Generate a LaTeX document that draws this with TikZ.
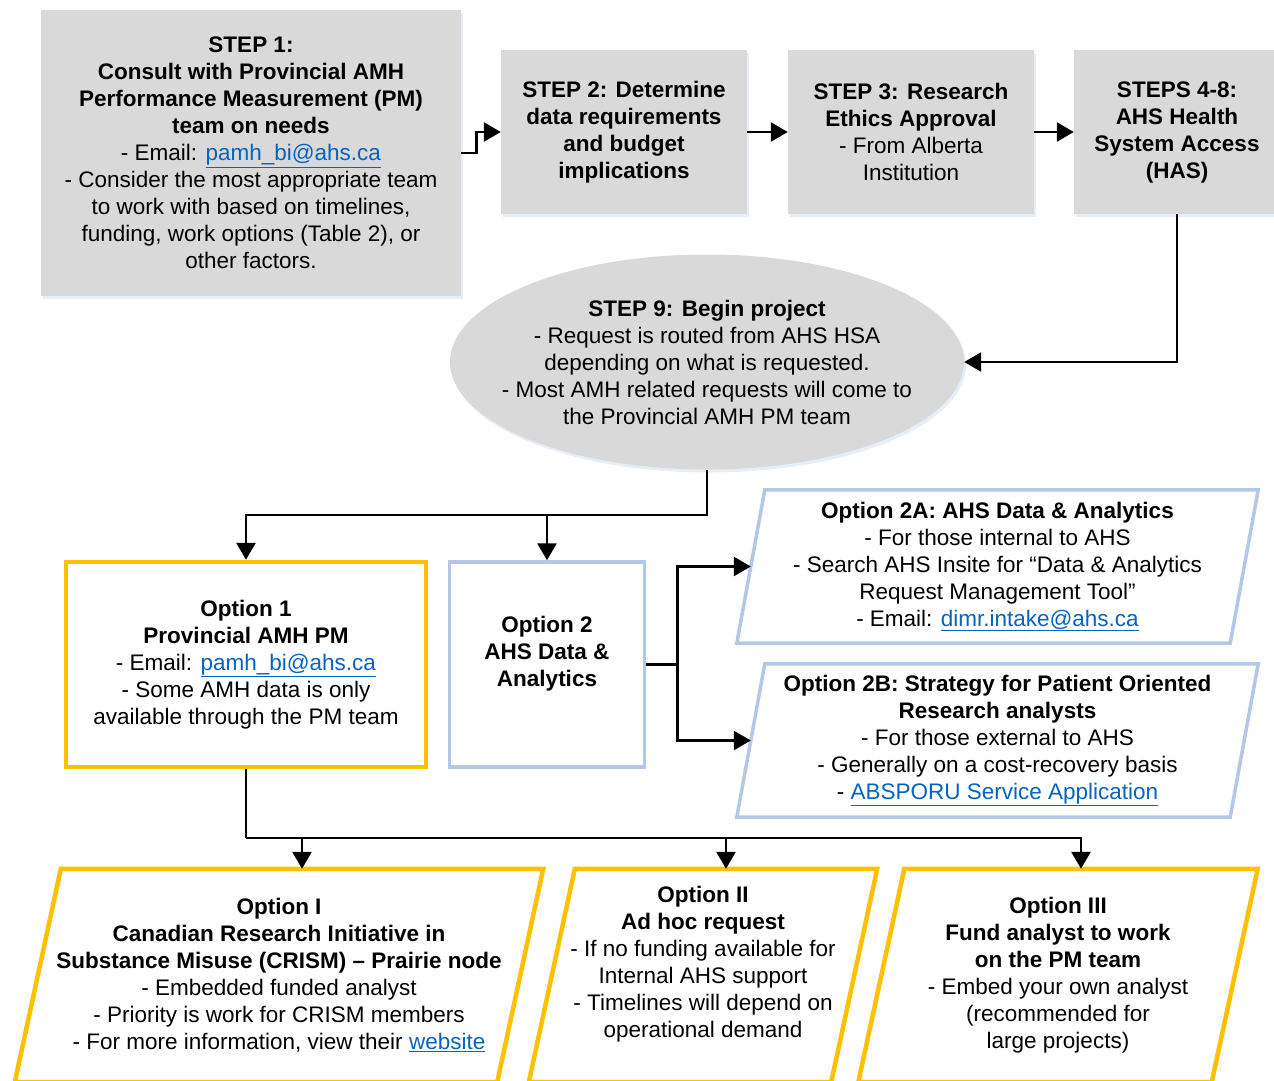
\documentclass[tikz,border=0pt]{standalone}
\usepackage{fontspec}
\setmainfont{Liberation Sans}
\usetikzlibrary{shapes.geometric,arrows.meta,calc,shadows}
\definecolor{boxgray}{HTML}{D9D9D9}
\definecolor{optyellow}{HTML}{FFC000}
\definecolor{optblue}{HTML}{B4C7E7}
\definecolor{glowblue}{HTML}{D6E2F3}
\definecolor{linkblue}{HTML}{0563C1}
\newcommand{\weblink}[1]{\textcolor{linkblue}{\underline{#1}}}
% slanted frame round a named node: node, half slant, style
\newcommand{\slantframe}[3]{%
  \draw[#3] ($(#1.north west)+(#2,0)$) -- ($(#1.north east)+(#2,0)$)
    -- ($(#1.south east)-(#2,0)$) -- ($(#1.south west)-(#2,0)$) -- cycle;}
\tikzset{
  stepbox/.style={fill=boxgray, align=center, inner sep=0pt,
    drop shadow={shadow xshift=2pt, shadow yshift=-3pt, fill=glowblue, opacity=0.6}},
  yellowbox/.style={draw=optyellow, line width=4.5pt, align=center, inner sep=0pt},
  bluebox/.style={draw=optblue, line width=3.5pt, align=center, inner sep=0pt},
  slanttext/.style={align=center, inner sep=0pt},
  flow/.style={line width=2.6pt},
}
\begin{document}
\begin{tikzpicture}[x=1pt, y=-1pt, font=\fontsize{22.5}{27}\selectfont, >={Triangle[length=17pt,width=19pt]}]
\useasboundingbox (0,0) rectangle (1274,1080);
% steps
\node[stepbox, minimum width=420pt, minimum height=286pt] (step1) at (251,153)
  {\textbf{STEP 1:}\\ \textbf{Consult with Provincial AMH}\\ \textbf{Performance Measurement (PM)}\\
   \textbf{team on needs}\\ - Email: \weblink{pamh\_bi@ahs.ca}\\ - Consider the most appropriate team\\
   to work with based on timelines,\\ funding, work options (Table 2), or\\ other factors.};
\node[stepbox, minimum width=246pt, minimum height=164pt] (step2) at (624,132)
  {\textbf{STEP 2: Determine}\\ \textbf{data requirements}\\ \textbf{and budget}\\ \textbf{implications}};
\node[stepbox, minimum width=246pt, minimum height=164pt] (step3) at (911,132)
  {\textbf{STEP 3: Research}\\ \textbf{Ethics Approval}\\ - From Alberta\\ Institution};
\node[stepbox, minimum width=206pt, minimum height=164pt] (step4) at (1177,132)
  {\textbf{STEPS 4-8:}\\ \textbf{AHS Health}\\ \textbf{System Access}\\ \textbf{(HAS)}};
\node[stepbox, ellipse, inner xsep=-25pt, minimum width=514pt, minimum height=215pt] (step9) at (707,362)
  {\textbf{STEP 9: Begin project}\\ - Request is routed from AHS HSA\\ depending on what is requested.\\
   - Most AMH related requests will come to\\ the Provincial AMH PM team};

% options
\node[yellowbox, minimum width=360pt, minimum height=205pt] (opt1) at (246,664.5)
  {\textbf{Option 1}\\ \textbf{Provincial AMH PM}\\ - Email: \weblink{pamh\_bi@ahs.ca}\\
   - Some AMH data is only\\ available through the PM team};
\node[bluebox, minimum width=195pt, minimum height=205pt] (opt2) at (547,664.5)
  {\textbf{Option 2}\\ \textbf{AHS Data \&}\\ \textbf{Analytics}\\ \mbox{}};
\node[slanttext, minimum width=493pt, minimum height=153pt] (opt2a) at (997.5,566.5)
  {\textbf{Option 2A: AHS Data \& Analytics}\\ - For those internal to AHS\\
   - Search AHS Insite for “Data \& Analytics\\ Request Management Tool”\\
   - Email: \weblink{dimr.intake@ahs.ca}};
\node[slanttext, minimum width=493pt, minimum height=153pt] (opt2b) at (997.5,740.5)
  {\textbf{Option 2B: Strategy for Patient Oriented}\\ \textbf{Research analysts}\\
   - For those external to AHS\\ - Generally on a cost-recovery basis\\
   - \weblink{ABSPORU Service Application}};
\slantframe{opt2a}{14}{draw=optblue, line width=3.5pt}
\slantframe{opt2b}{14}{draw=optblue, line width=3.5pt}

% funding options
\node[slanttext, minimum width=482pt, minimum height=213pt] (optI) at (279,975.5)
  {\textbf{Option I}\\ \textbf{Canadian Research Initiative in}\\ \textbf{Substance Misuse (CRISM) – Prairie node}\\
   - Embedded funded analyst\\ - Priority is work for CRISM members\\
   - For more information, view their \weblink{website}};
\node[slanttext, minimum width=302pt, minimum height=213pt] (optII) at (703,975.5)
  {\textbf{Option II}\\ \textbf{Ad hoc request}\\ - If no funding available for\\ Internal AHS support\\
   - Timelines will depend on\\ operational demand\\ \mbox{}};
\node[slanttext, minimum width=353pt, minimum height=213pt] (optIII) at (1058,975.5)
  {\textbf{Option III}\\ \textbf{Fund analyst to work}\\ \textbf{on the PM team}\\
   - Embed your own analyst\\ (recommended for\\ large projects)};
\slantframe{optI}{23}{draw=optyellow, line width=4.5pt}
\slantframe{optII}{23}{draw=optyellow, line width=4.5pt}
\slantframe{optIII}{23}{draw=optyellow, line width=4.5pt}

% connectors
\draw[flow,->] (step1.east) -- ++(15,0) |- (step2.west);
\draw[flow,->] (step2) -- (step3);
\draw[flow,->] (step3) -- (step4);
\draw[flow,->] (step4.south) |- (step9.east);
\coordinate (fork) at (707,515);
\draw[flow,->] (step9.south) -- (fork) -| (opt1.north);
\draw[flow,->] (fork) -| (opt2.north);
\coordinate (branch) at ($(opt2.east)+(31,0)$);
\draw[flow] (opt2.east) -- (branch);
\draw[flow,->] (branch) |- (opt2a.west);
\draw[flow,->] (branch) |- (opt2b.west);
\coordinate (bus) at (246,838);
\draw[flow] (opt1.south) -- (bus);
\draw[flow,->] (bus) -| ($(optI.north)+(23,0)$);
\draw[flow,->] (bus) -| ($(optII.north)+(23,0)$);
\draw[flow,->] (bus) -| ($(optIII.north)+(23,0)$);
\end{tikzpicture}
\end{document}
